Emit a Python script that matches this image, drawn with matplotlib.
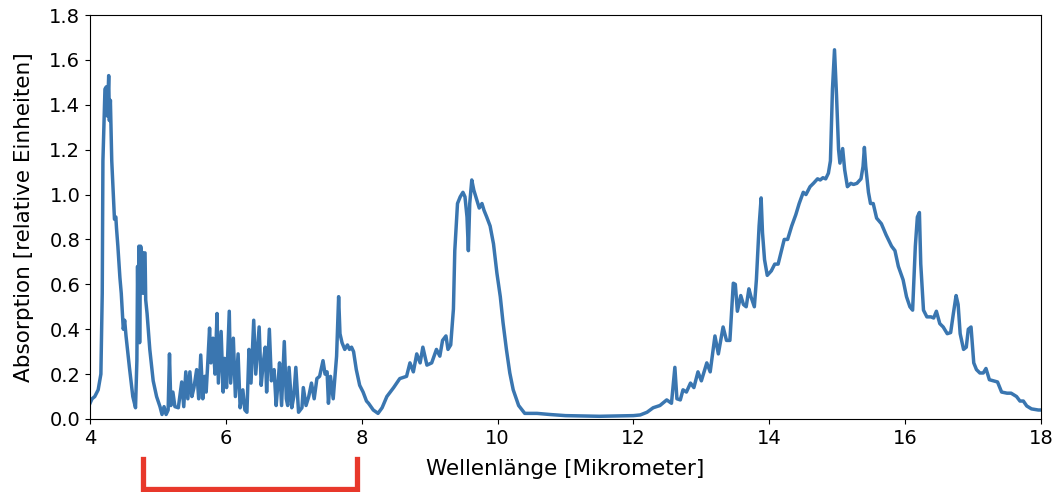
import numpy as np
import matplotlib.pyplot as plt

# absorption spectrum, read point by point: (wavelength in um, absorption)
band_4um = [
    (4.00, 0.07), (4.03, 0.09), (4.07, 0.10), (4.12, 0.13), (4.16, 0.20),
    (4.18, 0.56), (4.19, 1.15), (4.22, 1.47), (4.24, 1.48), (4.255, 1.35),
    (4.275, 1.53), (4.285, 1.33), (4.30, 1.42), (4.32, 1.15), (4.36, 0.89),
    (4.38, 0.90), (4.39, 0.85), (4.41, 0.77), (4.44, 0.63), (4.46, 0.56),
    (4.49, 0.40), (4.51, 0.44), (4.53, 0.37), (4.58, 0.23), (4.63, 0.10),
    (4.67, 0.05), (4.69, 0.26), (4.70, 0.68), (4.71, 0.35), (4.72, 0.77),
    (4.73, 0.34), (4.745, 0.77), (4.76, 0.74), (4.78, 0.56), (4.79, 0.74),
    (4.81, 0.74), (4.82, 0.53), (4.84, 0.47), (4.88, 0.31), (4.93, 0.17),
    (4.98, 0.10),
]

band_6um = [
    (5.03, 0.055), (5.06, 0.02), (5.09, 0.055), (5.12, 0.02), (5.15, 0.04),
    (5.17, 0.29), (5.19, 0.06), (5.22, 0.12), (5.25, 0.055), (5.30, 0.05),
    (5.35, 0.165), (5.38, 0.055), (5.41, 0.21), (5.44, 0.09), (5.47, 0.21),
    (5.50, 0.10), (5.53, 0.14), (5.57, 0.22), (5.60, 0.09), (5.63, 0.285),
    (5.66, 0.09), (5.69, 0.19), (5.71, 0.12), (5.73, 0.23), (5.76, 0.405),
    (5.78, 0.25), (5.81, 0.36), (5.84, 0.20), (5.87, 0.47), (5.89, 0.16),
    (5.93, 0.39), (5.96, 0.12), (5.98, 0.27), (6.01, 0.14), (6.05, 0.48),
    (6.07, 0.16), (6.11, 0.36), (6.14, 0.10), (6.18, 0.29), (6.21, 0.05),
    (6.25, 0.13), (6.28, 0.04), (6.31, 0.03), (6.34, 0.31), (6.37, 0.16),
    (6.41, 0.44), (6.44, 0.20), (6.49, 0.41), (6.52, 0.15), (6.55, 0.25),
    (6.58, 0.32), (6.60, 0.12), (6.64, 0.40), (6.67, 0.17), (6.71, 0.22),
    (6.74, 0.06), (6.77, 0.17), (6.79, 0.25), (6.82, 0.06), (6.86, 0.345),
    (6.89, 0.09), (6.91, 0.06), (6.93, 0.23), (6.97, 0.05), (7.00, 0.10),
    (7.03, 0.23), (7.07, 0.03), (7.12, 0.05), (7.14, 0.14), (7.18, 0.06),
    (7.22, 0.10), (7.26, 0.16), (7.30, 0.09), (7.34, 0.18), (7.38, 0.19),
    (7.43, 0.26), (7.46, 0.20), (7.49, 0.21), (7.51, 0.07), (7.54, 0.19),
    (7.58, 0.09), (7.63, 0.28), (7.66, 0.545), (7.68, 0.38), (7.71, 0.34),
    (7.75, 0.31), (7.79, 0.33), (7.82, 0.31), (7.85, 0.32), (7.88, 0.30),
    (7.92, 0.22), (7.97, 0.15), (8.02, 0.12), (8.07, 0.08), (8.10, 0.07),
    (8.17, 0.04), (8.24, 0.025),
]

band_9um = [
    (8.30, 0.05), (8.37, 0.10), (8.47, 0.14), (8.56, 0.18), (8.66, 0.19),
    (8.71, 0.25), (8.76, 0.21), (8.81, 0.29), (8.86, 0.25), (8.90, 0.32),
    (8.96, 0.24), (9.03, 0.25), (9.10, 0.31), (9.15, 0.28), (9.19, 0.35),
    (9.24, 0.37), (9.27, 0.31), (9.31, 0.33), (9.35, 0.49), (9.37, 0.75),
    (9.41, 0.96), (9.45, 0.99), (9.49, 1.01), (9.52, 0.99), (9.55, 0.90),
    (9.57, 0.75), (9.59, 0.96), (9.62, 1.065), (9.65, 1.02), (9.69, 0.98),
    (9.73, 0.94), (9.77, 0.96), (9.80, 0.93), (9.84, 0.90), (9.89, 0.86),
    (9.94, 0.78), (9.99, 0.65), (10.04, 0.545), (10.08, 0.43), (10.13, 0.31),
    (10.18, 0.205), (10.23, 0.13), (10.31, 0.06), (10.40, 0.025),
]

window = [
    (10.58, 0.025), (10.77, 0.02), (11.00, 0.015), (11.50, 0.012),
    (12.00, 0.015), (12.10, 0.018),
]

band_15um = [
    (12.20, 0.03), (12.29, 0.05), (12.39, 0.06), (12.49, 0.085), (12.56, 0.07),
    (12.61, 0.23), (12.64, 0.09), (12.69, 0.085), (12.73, 0.13), (12.78, 0.12),
    (12.84, 0.16), (12.89, 0.14), (12.95, 0.21), (13.00, 0.17), (13.08, 0.25),
    (13.13, 0.21), (13.20, 0.37), (13.25, 0.29), (13.32, 0.41), (13.37, 0.35),
    (13.42, 0.35), (13.47, 0.605), (13.50, 0.60), (13.53, 0.48), (13.58, 0.55),
    (13.62, 0.51), (13.66, 0.50), (13.70, 0.58), (13.73, 0.545), (13.78, 0.50),
    (13.81, 0.62), (13.85, 0.86), (13.88, 0.985), (13.90, 0.83), (13.93, 0.71),
    (13.97, 0.64), (14.03, 0.66), (14.08, 0.69), (14.13, 0.69), (14.18, 0.75),
    (14.22, 0.80), (14.27, 0.80), (14.33, 0.86), (14.39, 0.91), (14.44, 0.96),
    (14.50, 1.01), (14.54, 1.00), (14.60, 1.035), (14.65, 1.05), (14.71, 1.07),
    (14.75, 1.065), (14.79, 1.075), (14.83, 1.07), (14.87, 1.095), (14.90, 1.15),
    (14.93, 1.47), (14.96, 1.645), (14.99, 1.44), (15.02, 1.20), (15.04, 1.14),
    (15.08, 1.205), (15.11, 1.11), (15.15, 1.035), (15.20, 1.05), (15.24, 1.045),
    (15.29, 1.05), (15.35, 1.07), (15.38, 1.125), (15.40, 1.21), (15.42, 1.125),
    (15.46, 1.01), (15.49, 0.96), (15.53, 0.96), (15.58, 0.895), (15.65, 0.87),
    (15.72, 0.82), (15.80, 0.77), (15.85, 0.75), (15.90, 0.68), (15.97, 0.62),
    (16.02, 0.545), (16.07, 0.50), (16.11, 0.485), (16.15, 0.77), (16.18, 0.90),
    (16.21, 0.92), (16.23, 0.69), (16.27, 0.485), (16.32, 0.455), (16.38, 0.455),
    (16.42, 0.45), (16.46, 0.48), (16.51, 0.425), (16.56, 0.41), (16.62, 0.38),
    (16.67, 0.385), (16.71, 0.47), (16.75, 0.55), (16.78, 0.51), (16.81, 0.38),
    (16.86, 0.31), (16.90, 0.32), (16.93, 0.40), (16.97, 0.41), (17.01, 0.25),
    (17.05, 0.22), (17.10, 0.205), (17.15, 0.205), (17.19, 0.225), (17.24, 0.175),
    (17.30, 0.17), (17.36, 0.165), (17.42, 0.12), (17.50, 0.115), (17.56, 0.115),
    (17.64, 0.10), (17.69, 0.08), (17.74, 0.08), (17.79, 0.058), (17.86, 0.045),
    (17.96, 0.04), (18.00, 0.04),
]

# range marked below the axis
marked_range = (4.78, 7.93)

spectrum = np.array(band_4um + band_6um + band_9um + window + band_15um)
wavelength = spectrum[:, 0]
absorption = spectrum[:, 1]

fig = plt.figure(figsize=(10.59, 4.92), dpi=100)
ax = fig.add_axes([0.085, 0.1484, 0.898, 0.8211])

ax.plot(wavelength, absorption, color='#3a76b0', lw=2.5)

ax.set_xlim(4, 18)
ax.set_ylim(0, 1.8)
ax.set_xticks(np.arange(4, 19, 2))
ax.set_yticks(np.arange(0, 1.81, 0.2))
ax.tick_params(labelsize=14)
ax.set_xlabel('Wellenlänge [Mikrometer]', fontsize=15.5, labelpad=8)
ax.set_ylabel('Absorption [relative Einheiten]', fontsize=15.5, labelpad=11)

# red bracket under the x axis
trans = ax.get_xaxis_transform()
x0, x1 = marked_range
ax.plot([x0, x0, x1, x1], [-0.10, -0.174, -0.174, -0.10], color='#e8382b',
        lw=3.8, transform=trans, clip_on=False, solid_joinstyle='miter')

plt.savefig('out.png', dpi=100)
